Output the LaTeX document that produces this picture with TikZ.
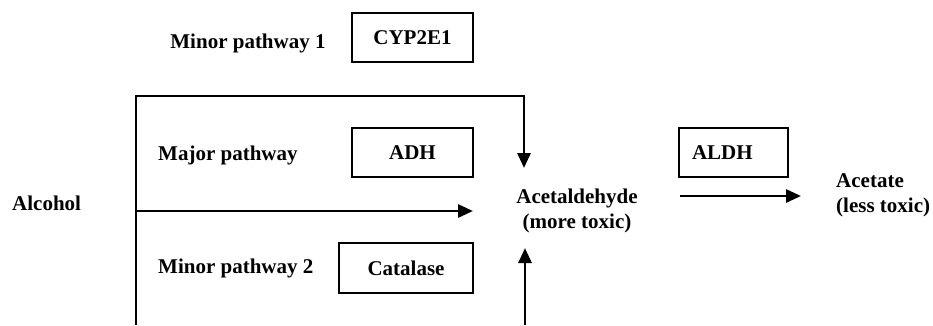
\documentclass[tikz,border=0pt]{standalone}
\usepackage{fontspec}
\setmainfont{Liberation Serif}
\usetikzlibrary{arrows.meta}
\begin{document}
\begin{tikzpicture}[x=1pt,y=-1pt,
  lbl/.style={font=\fontsize{21}{25}\selectfont\bfseries, inner sep=0pt},
  enz/.style={draw, line width=2.2pt, font=\fontsize{21}{25}\selectfont\bfseries, inner sep=0pt},
  arr/.style={line width=2.8pt, -{Triangle[length=15pt,width=13pt]}}]
\useasboundingbox (0,0) rectangle (933,325);
% labels
\node[lbl] (minor1) at (248,43) {Minor pathway 1};
\node[enz, minimum width=121pt, minimum height=49pt] (cyp) at (412.5,37.5) {CYP2E1};
\node[lbl, anchor=west] (major) at (158,155) {Major pathway};
\node[enz, minimum width=121pt, minimum height=49pt] (adh) at (412.5,152.5) {ADH};
\node[lbl, anchor=west] (minor2) at (158,268) {Minor pathway 2};
\node[enz, minimum width=134pt, minimum height=50pt] (cat) at (406,268) {Catalase};
\node[lbl, anchor=west] (alc) at (12,203) {Alcohol};
\node[lbl, align=center] (acet) at (577,211) {Acetaldehyde\\(more toxic)};
\node[enz, minimum width=109pt, minimum height=49pt, text width=83pt, align=left, inner xsep=13pt] (aldh) at (733.5,152.5) {ALDH};
\node[lbl, align=left, anchor=west] (acetate) at (836,195) {Acetate\\(less toxic)};
% pathway coordinates
\coordinate (lb) at (136,325);
\coordinate (lt) at (136,96);
\coordinate (rt) at (524,96);
\coordinate (downtip) at (524,168);
\coordinate (mid) at (136,211);
\coordinate (midtip) at (473,211);
\coordinate (rb) at (525,325);
\coordinate (uptip) at (525,248);
\coordinate (aa) at (680,196);
\coordinate (ab) at (801,196);
% connectors
\draw[arr] (lb) -- (lt) -- (rt) -- (downtip);
\draw[arr] (mid) -- (midtip);
\draw[arr] (rb) -- (uptip);
\draw[arr] (aa) -- (ab);
\end{tikzpicture}
\end{document}
